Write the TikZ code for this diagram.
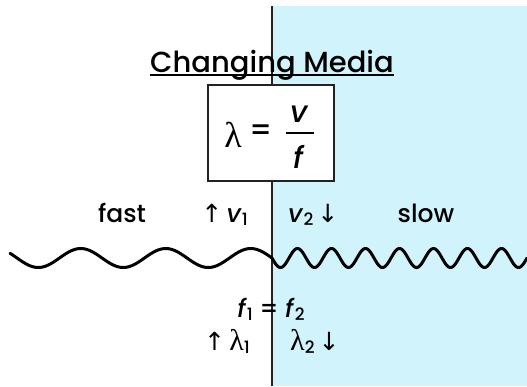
\documentclass[tikz,border=0pt]{standalone}
\usepackage{fontspec}
\setmainfont{Poppins}[UprightFont=* Medium,ItalicFont=* Medium Italic]
\newfontfamily\grk{Liberation Serif}
\newfontfamily\arr{DejaVu Sans}
\usetikzlibrary{calc,positioning}
\definecolor{slowside}{HTML}{D0F3FC}
\definecolor{ink}{HTML}{222222}
\newcommand{\lowidx}[1]{\raisebox{-3pt}{\fontsize{17}{17}\selectfont #1}}
\newcommand{\lam}{{\fontsize{30}{30}\selectfont\grk λ}}
\tikzset{x=1pt,y=-1pt,
  every node/.style={font=\fontsize{25}{30}\selectfont,inner sep=0pt},
  divider/.style={draw=ink,line width=2pt},
  wave/.style={draw=black,line width=3pt,line cap=round,smooth},
  eqbox/.style={draw=ink,line width=1.5pt,fill=white,minimum width=126pt,minimum height=96pt},
  big/.style={font=\fontsize{30}{32}\selectfont}}

\begin{document}
\begin{tikzpicture}
\useasboundingbox(0,0)rectangle(527,386);
\fill[slowside](272,6)rectangle(527,386);
\draw[divider](272,6)--(272,386);
% wave: long wavelength left, short wavelength right
\draw[wave]plot[domain=10:272,samples=120](\x,{258+9.5*sin((\x-272)/85*360)});
\draw[wave]plot[domain=272:527,samples=220](\x,{258+9.5*sin((\x-272)/34*360)});
\node[font=\fontsize{29}{34}\selectfont,anchor=base](title)at(272,72){Changing Media};
\draw[line width=2pt]($(title.base west)+(0,3)$)--($(title.base east)+(0,3)$);
% formula box
\node[eqbox](formula)at(271,133){};
\node[font=\fontsize{36}{36}\selectfont\grk,anchor=base](lambda)at(233,147){λ};
\node[big](equals)at(261,133){=};
\node[big,anchor=base](num)at(300,122){\textit{v}};
\node[big,anchor=base](den)at(299,168){\textit{f}};
\draw[line width=2pt](286,133)--(314,133);
% labels
\node[anchor=base](fast)at(122,222){fast};
\node[anchor=base east](vone)at(248,222){{\arr ↑}\,\textit{v}\lowidx{1}};
\node[anchor=base west](vtwo)at(288,222){\textit{v}\lowidx{2}\,{\arr ↓}};
\node[anchor=base](slow)at(426,222){slow};
\node[anchor=base](freq)at(271,317){\textit{f}\lowidx{1} = \textit{f}\lowidx{2}};
\node[anchor=base east](lone)at(250,350){{\arr ↑}\,\lam\lowidx{1}};
\node[anchor=base west](ltwo)at(290,350){\lam\lowidx{2}\,{\arr ↓}};
\end{tikzpicture}
\end{document}
